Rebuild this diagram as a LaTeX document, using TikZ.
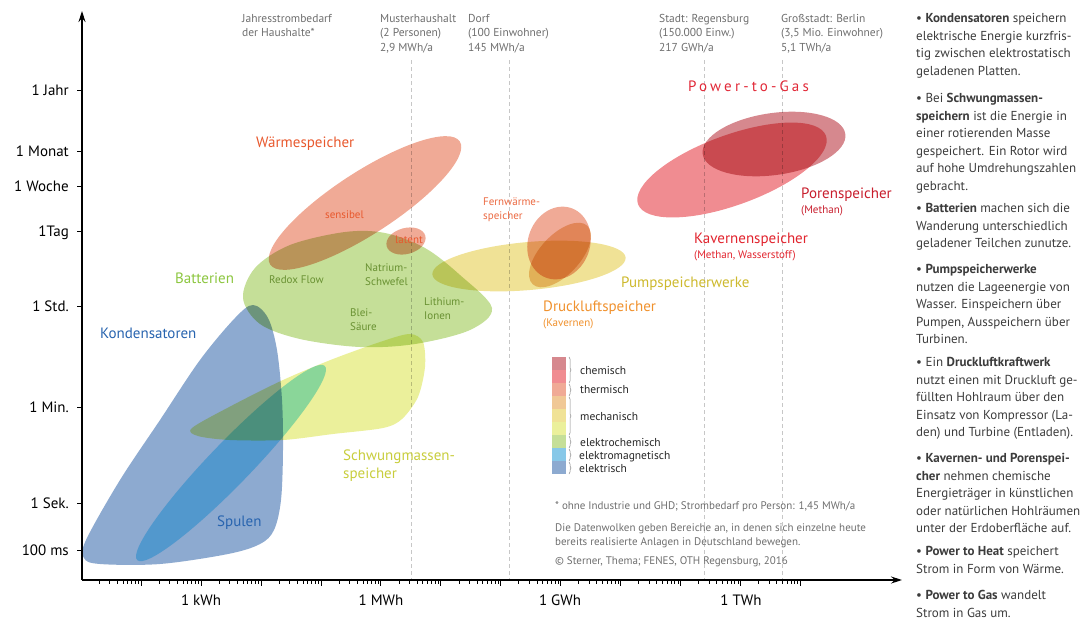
\documentclass[tikz,border=0pt]{standalone}
\usepackage{fontspec}
\setmainfont{PT Sans}
\usetikzlibrary{arrows.meta,decorations.pathreplacing}

% fill colours of the data clouds (= legend)
\definecolor{chemCol}{RGB}{214,136,142}
\definecolor{kavCol}{RGB}{240,140,145}
\definecolor{thermCol}{RGB}{240,170,150}
\definecolor{druckCol}{RGB}{240,200,150}
\definecolor{pumpCol}{RGB}{240,226,150}
\definecolor{schwungCol}{RGB}{235,240,155}
\definecolor{batCol}{RGB}{197,223,152}
\definecolor{spuleCol}{RGB}{135,200,232}
\definecolor{spuleCloud}{RGB}{150,228,252}
\definecolor{kondCol}{RGB}{141,170,208}
% text colours
\definecolor{waermeText}{RGB}{232,88,45}
\definecolor{batText}{RGB}{140,198,63}
\definecolor{batInner}{RGB}{105,145,50}
\definecolor{kondText}{RGB}{40,100,175}
\definecolor{schwungText}{RGB}{200,205,60}
\definecolor{fernText}{RGB}{235,105,65}
\definecolor{pumpText}{RGB}{205,185,45}
\definecolor{druckText}{RGB}{240,145,45}
\definecolor{ptgText}{RGB}{225,40,55}
\definecolor{porenText}{RGB}{200,30,45}
\definecolor{kavText}{RGB}{225,35,45}
\definecolor{infoGray}{RGB}{110,110,110}
\definecolor{colGray}{RGB}{60,60,60}

\tikzset{
	axisline/.style={line width=1.1pt, -{Stealth[length=11pt,width=7pt]}},
	refline/.style={black!22, dash pattern=on 4pt off 3pt, line width=0.8pt},
	ylab/.style={font=\fontsize{15}{18}\selectfont, anchor=base east, inner sep=0pt},
	xlab/.style={font=\fontsize{15}{18}\selectfont, anchor=base, inner sep=0pt},
	biglabel/.style={font=\fontsize{15}{18}\selectfont, anchor=base west, inner sep=0pt},
	smalllabel/.style={font=\fontsize{11}{14.5}\selectfont, anchor=base west, inner sep=0pt},
	grayinfo/.style={text=infoGray, font=\fontsize{11.5}{14.5}\selectfont, anchor=base west, inner sep=0pt},
	footinfo/.style={text=infoGray, font=\fontsize{11}{14}\selectfont, anchor=base west, inner sep=0pt},
	legendlab/.style={text=black!85, font=\fontsize{11.5}{14}\selectfont, anchor=base west, inner sep=0pt},
	legendbrace/.style={black!45, line width=0.5pt, decorate, decoration={brace, amplitude=2pt}},
	coltext/.style={text=colGray, font=\fontsize{13}{17.5}\selectfont, anchor=base west, inner sep=0pt}
}

\begin{document}
\begin{tikzpicture}[x=1pt, y={(0,-1pt)}]
	\useasboundingbox (0,0) rectangle (1090,619);

	% consumption reference lines
	\foreach \xx/\nm in {411/muster, 509/dorf, 704/stadt, 782/berlin} {
		\coordinate (\nm-top) at (\xx,60);
		\coordinate (\nm-bot) at (\xx,580);
		\draw[refline] (\nm-top) -- (\nm-bot);
	}

	\node[grayinfo] (jahresbedarf) at (242,22) {\begin{tabular}[t]{@{}l@{}} Jahresstrombedarf \\ der Haushalte* \end{tabular}};
	\node[grayinfo] (musterhh) at (380,22) {\begin{tabular}[t]{@{}l@{}} Musterhaushalt \\ (2 Personen) \\ 2,9 MWh/a \end{tabular}};
	\node[grayinfo] (dorf) at (468,22) {\begin{tabular}[t]{@{}l@{}} Dorf \\ (100 Einwohner) \\ 145 MWh/a \end{tabular}};
	\node[grayinfo] (regensburg) at (659,22) {\begin{tabular}[t]{@{}l@{}} Stadt: Regensburg \\ (150.000 Einw.) \\ 217 GWh/a \end{tabular}};
	\node[grayinfo] (berlin) at (781,22) {\begin{tabular}[t]{@{}l@{}} Großstadt: Berlin \\ (3,5 Mio. Einwohner) \\ 5,1 TWh/a \end{tabular}};

	% data clouds
	\begin{scope}[blend mode=multiply]
		\fill[kondCol] plot[smooth cycle, tension=0.55] coordinates {(253,305) (268,318) (277,350) (282,400) (283,450) (281,500) (274,530) (260,544) (228,554) (160,564) (100,564) (84,558) (86,540) (120,480) (160,420) (200,360) (235,318)};
		\fill[spuleCloud, rotate around={46:(231,463)}] (231,463) ellipse [x radius=135pt, y radius=21pt];
		\fill[schwungCol] plot[smooth cycle, tension=0.5] coordinates {(192,428) (233,405) (283,380) (333,359) (383,341) (410,334) (423,342) (425,367) (418,397) (402,419) (383,428) (333,434) (283,440) (230,440) (198,436)};
		\fill[batCol] plot[smooth cycle, tension=0.55] coordinates {(243,298) (255,268) (290,245) (345,232) (385,233) (425,248) (460,275) (492,308) (470,330) (415,344) (360,347) (300,339) (260,324)};
		\fill[thermCol, rotate around={33:(365,203)}] (365,203) ellipse [x radius=113pt, y radius=31pt];
		\fill[thermCol, rotate around={15:(406,241)}] (406,241) ellipse [x radius=20pt, y radius=13pt];
		\fill[pumpCol, rotate around={5:(529,266)}] (529,266) ellipse [x radius=97pt, y radius=24pt];
		\fill[thermCol, rotate around={70:(559,243)}] (559,243) ellipse [x radius=37pt, y radius=31pt];
		\fill[druckCol, rotate around={47:(560,255)}] (560,255) ellipse [x radius=40pt, y radius=20pt];
		\fill[kavCol, rotate around={20:(732,170)}] (732,170) ellipse [x radius=100pt, y radius=35pt];
		\fill[chemCol, rotate around={8:(774,144)}] (774,144) ellipse [x radius=72pt, y radius=31pt];
	\end{scope}

	% axes
	\coordinate (origin) at (82,580);
	\coordinate (ytip) at (82,11);
	\coordinate (xtip) at (902,580);
	\draw[axisline] (origin) -- (ytip);
	\draw[axisline] (origin) -- (xtip);

	\foreach \d in {-1,...,10}
		\draw[line width=0.8pt] ({201+59.95*\d},580) -- ++(0,6);
	\foreach \d in {-2,...,9}
		\foreach \m in {2,...,9}
			\draw[line width=0.6pt] ({201+59.95*(\d+log10(\m))},580) -- ++(0,4);

	\node[xlab] (kwh) at (201,605) {1 kWh};
	\node[xlab] (mwh) at (381,605) {1 MWh};
	\node[xlab] (gwh) at (560,605) {1 GWh};
	\node[xlab] (twh) at (741,605) {1 TWh};

	\foreach \yy/\lab in {90/1 Jahr, 151/1 Monat, 186/1 Woche, 231/1Tag, 306/1 Std., 407/1 Min., 503/1 Sek., 550/100 ms} {
		\draw[line width=0.8pt] (77,\yy) -- (82,\yy);
		\node[ylab] (ylab-\yy) at (69,\yy+5) {\lab};
	}

	% cloud labels
	\node[biglabel, text=waermeText] (waerme) at (256,147) {Wärmespeicher};
	\node[smalllabel, text=waermeText] (sensibel) at (325,218) {sensibel};
	\node[smalllabel, text=waermeText] (latent) at (395,243) {latent};
	\node[biglabel, text=batText] (batterien) at (175,283) {Batterien};
	\node[smalllabel, text=batInner] (redox) at (269,283) {Redox Flow};
	\node[smalllabel, text=batInner] (nas) at (365,271) {\begin{tabular}[t]{@{}l@{}} Natrium- \\ Schwefel \end{tabular}};
	\node[smalllabel, text=batInner] (blei) at (350,316) {\begin{tabular}[t]{@{}l@{}} Blei- \\ Säure \end{tabular}};
	\node[smalllabel, text=batInner] (lithium) at (424,305) {\begin{tabular}[t]{@{}l@{}} Lithium- \\ Ionen \end{tabular}};
	\node[biglabel, text=kondText] (kondensatoren) at (100,338) {Kondensatoren};
	\node[biglabel, text=kondText] (spulen) at (217,526) {Spulen};
	\node[biglabel, text=schwungText] (schwung) at (343,460) {\begin{tabular}[t]{@{}l@{}} Schwungmassen- \\ speicher \end{tabular}};
	\node[smalllabel, text=fernText] (fernwaerme) at (483,205) {\begin{tabular}[t]{@{}l@{}} Fernwärme- \\ speicher \end{tabular}};
	\node[biglabel, text=pumpText] (pumpsp) at (621,287) {Pumpspeicherwerke};
	\node[biglabel, text=druckText] (druckluft) at (543,311) {Druckluftspeicher};
	\node[smalllabel, text=druckText] (druckluftsub) at (543,326) {(Kavernen)};
	\node[biglabel, text=ptgText] (ptg) at (688,91) {\addfontfeature{LetterSpace=21}Power-to-Gas};
	\node[biglabel, text=porenText] (poren) at (801,198) {Porenspeicher};
	\node[smalllabel, text=porenText] (porensub) at (801,213) {(Methan)};
	\node[biglabel, text=kavText] (kavernen) at (694,243) {Kavernenspeicher};
	\node[smalllabel, text=kavText] (kavernensub) at (694,258) {(Methan, Wasserstoff)};

	% legend
	\foreach \c [count=\i from 0] in {chemCol,kavCol,thermCol,druckCol,pumpCol,schwungCol,batCol,spuleCol,kondCol}
		\fill[\c] (552,{357+13*\i}) rectangle (566,{370+13*\i});
	\draw[legendbrace] (569,357) -- (569,383);
	\draw[legendbrace] (569,384) -- (569,396);
	\draw[legendbrace] (569,397) -- (569,435);
	\draw[legendbrace] (569,436) -- (569,448);
	\draw[legendbrace] (569,449) -- (569,461);
	\draw[legendbrace] (569,462) -- (569,474);
	\node[legendlab] (legChem) at (580,374) {chemisch};
	\node[legendlab] (legTherm) at (580,393) {thermisch};
	\node[legendlab] (legMech) at (580,420) {mechanisch};
	\node[legendlab] (legEchem) at (580,446) {elektrochemisch};
	\node[legendlab] (legEmag) at (579,459) {elektromagnetisch};
	\node[legendlab] (legEl) at (579,472) {elektrisch};

	% footnotes
	\node[footinfo] (fnStar) at (555,509) {* ohne Industrie und GHD; Strombedarf pro Person: 1,45 MWh/a};
	\node[footinfo] (fnWolken) at (555,531) {\begin{tabular}[t]{@{}l@{}} Die Datenwolken geben Bereiche an, in denen sich einzelne heute \\ bereits realisierte Anlagen in Deutschland bewegen. \end{tabular}};
	\node[footinfo] (fnCopy) at (555,564) {© Sterner, Thema; FENES, OTH Regensburg, 2016};

	% explanations
	\node[coltext] (txtKond) at (916,22.5) {\begin{tabular}[t]{@{}l@{}}
		• \textbf{Kondensatoren} speichern \\ elektrische Energie kurzfris- \\ tig zwischen elektrostatisch \\ geladenen Platten. \end{tabular}};
	\node[coltext] (txtSchwung) at (916,102.5) {\begin{tabular}[t]{@{}l@{}}
		• Bei \textbf{Schwungmassen-} \\ \textbf{speichern} ist die Energie in \\ einer rotierenden Masse \\ gespeichert. Ein Rotor wird \\ auf hohe Umdrehungszahlen \\ gebracht. \end{tabular}};
	\node[coltext] (txtBat) at (916,212.5) {\begin{tabular}[t]{@{}l@{}}
		• \textbf{Batterien} machen sich die \\ Wanderung unterschiedlich \\ geladener Teilchen zunutze. \end{tabular}};
	\node[coltext] (txtPump) at (916,273.5) {\begin{tabular}[t]{@{}l@{}}
		• \textbf{Pumpspeicherwerke} \\ nutzen die Lageenergie von \\ Wasser. Einspeichern über \\ Pumpen, Ausspeichern über \\ Turbinen. \end{tabular}};
	\node[coltext] (txtDruck) at (916,366.5) {\begin{tabular}[t]{@{}l@{}}
		• Ein \textbf{Druckluftkraftwerk} \\ nutzt einen mit Druckluft ge- \\ füllten Hohlraum über den \\ Einsatz von Kompressor (La- \\ den) und Turbine (Entladen). \end{tabular}};
	\node[coltext] (txtKav) at (916,462.5) {\begin{tabular}[t]{@{}l@{}}
		• \textbf{Kavernen- und Porenspei-} \\ \textbf{cher} nehmen chemische \\ Energieträger in künstlichen \\ oder natürlichen Hohlräumen \\ unter der Erdoberfläche auf. \end{tabular}};
	\node[coltext] (txtPtH) at (916,555.5) {\begin{tabular}[t]{@{}l@{}}
		• \textbf{Power to Heat} speichert \\ Strom in Form von Wärme. \end{tabular}};
	\node[coltext] (txtPtG) at (916,599.5) {\begin{tabular}[t]{@{}l@{}}
		• \textbf{Power to Gas} wandelt \\ Strom in Gas um. \end{tabular}};
\end{tikzpicture}
\end{document}
